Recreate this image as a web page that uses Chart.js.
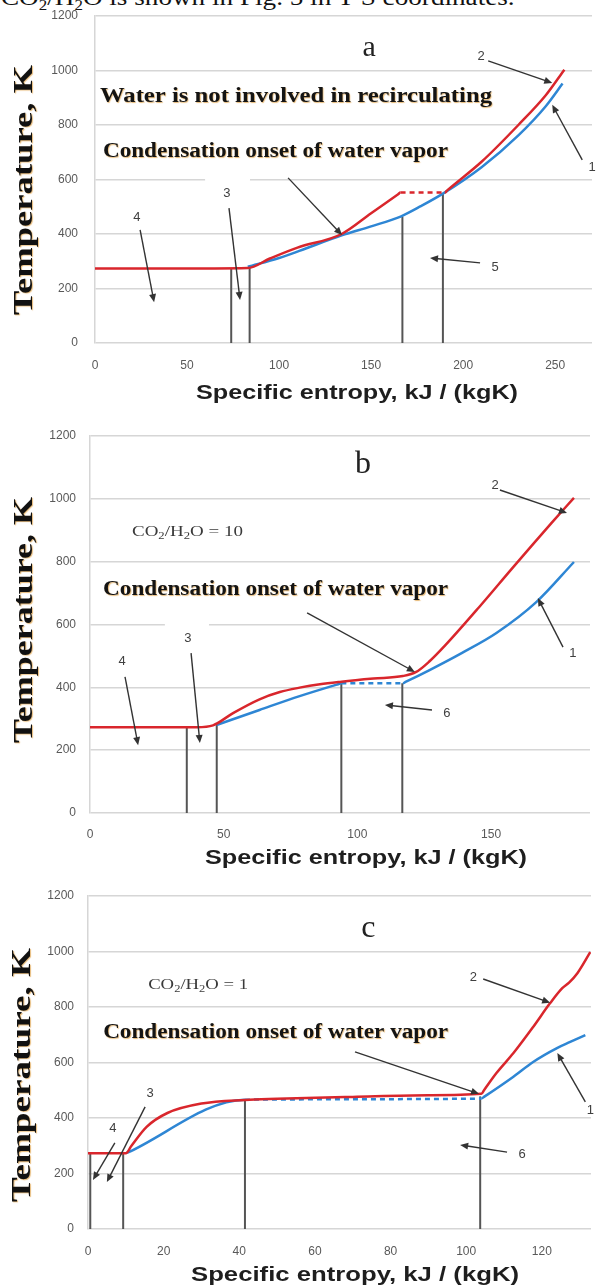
<!DOCTYPE html>
<html><head><meta charset="utf-8">
<script src="https://cdn.jsdelivr.net/npm/chart.js@4.4.1/dist/chart.umd.min.js"></script>
<style>
html,body{margin:0;padding:0;background:#fff}
body{width:597px;height:1288px;position:relative;overflow:hidden}
.panel{position:absolute;left:0;width:597px}
.panel canvas{display:block}
#cap{position:absolute;left:1px;top:-15px;font:24px "Liberation Serif",serif;color:#111;white-space:nowrap;line-height:24px;transform-origin:0 0}
#cap sub{font-size:15px;vertical-align:-5px;line-height:0}
</style></head><body>
<div id="cap">CO<sub>2</sub>/H<sub>2</sub>O is shown in Fig. 5 in T-S coordinates.</div>
<div class="panel" style="top:0;height:410px"><canvas id="cA"></canvas></div>
<div class="panel" style="top:415px;height:460px"><canvas id="cB"></canvas></div>
<div class="panel" style="top:880px;height:408px"><canvas id="cC"></canvas></div>
<script>
// ---------- data ----------
const Y_TICKS = [0, 200, 400, 600, 800, 1000, 1200];
const X_TICKS_A = [0, 50, 100, 150, 200, 250];
const X_TICKS_B = [0, 50, 100, 150];
const X_TICKS_C = [0, 20, 40, 60, 80, 100, 120];

// panel a
const S_RED_A  = [0, 40, 83, 95, 110, 134, 150, 164.5, 166, 190, 191.5, 210, 230, 245, 255];
const T_RED_A  = [273, 273, 275, 310, 350, 400, 476, 545, 552, 552, 561, 665, 800, 910, 1003];
const S_BLUE_A = [83, 100, 111, 134, 150, 166, 177, 189, 210, 230, 245, 254];
const T_BLUE_A = [280, 312, 338, 395, 428, 464, 502, 548, 645, 762, 870, 952];
const RED_DASH_A = [166, 190];
const DROP_S_A = [74, 84, 167, 189];
const DROP_T_A = [273, 278, 464, 548];

// panel b
const S_RED_B  = [0, 40, 46, 53.5, 63.4, 71, 78.4, 86, 94, 106, 117, 122, 127, 133, 145.5, 157.8, 165.3, 172.8, 181];
const T_RED_B  = [273, 273, 279, 318, 362, 385, 399, 410, 418, 428, 436, 449, 483, 535, 655, 778, 852, 925, 1003];
const S_BLUE_B = [47.3, 63.4, 78.4, 92.8, 94, 117, 118, 127, 139, 152, 167, 181];
const T_BLUE_B = [280, 328, 372, 410, 413, 413, 417, 455, 509, 573, 672, 799];
const BLUE_DASH_B = [94, 117];
const DROP_S_B = [36.2, 47.4, 94, 116.8];
const DROP_T_B = [273, 280, 413, 413];

// panel c
const S_RED_C  = [0, 10, 11.5, 15.5, 21, 30, 41.5, 50, 70, 90, 104, 104.8, 108, 112.5, 117.7, 122.2, 125.4, 127.2, 129.4, 132.8];
const T_RED_C  = [273, 273, 300, 368, 418, 452, 465, 469, 476, 482, 487, 502, 562, 634, 728, 814, 868, 888, 922, 998];
const S_BLUE_C = [10.3, 41.5, 104, 104.8, 112.4, 117.7, 124, 127.5, 131.5];
const T_BLUE_C = [274, 466, 470, 477, 548, 602, 652, 674, 699];
const BLUE_DASH_C = [41.5, 104];
const DROP_S_C = [0.6, 9.3, 41.5, 103.7];
const DROP_T_C = [273, 273, 466, 478];

// ---------- styles ----------
const RED = '#d9262c', BLUE = '#2e86d4', DROP = '#555555', GRID = '#d6d6d6', TICK = '#595959';
const SERIF = '"Liberation Serif", serif', SANS = '"Liberation Sans", Arial, sans-serif';
const Y_TITLE = 'Temperature, K', X_TITLE = 'Specific entropy, kJ / (kgK)';
const COND = 'Condensation onset of water vapor';

(function () {
  const cap = document.getElementById('cap');
  cap.style.transform = 'scaleX(' + (514 / cap.offsetWidth) + ')';
})();

function curve(S, T, color, dash, order) {
  return {
    data: S.map((s, i) => ({x: s, y: T[i]})),
    borderColor: color, borderWidth: 2.5, pointRadius: 0, fill: false,
    cubicInterpolationMode: 'monotone', order: order,
    segment: dash ? {borderDash: c => (c.p0.parsed.x >= dash[0] - 1e-6 && c.p1.parsed.x <= dash[1] + 1e-6) ? [5, 4] : undefined} : undefined
  };
}

function fitText(ctx, txt, x, y, font, color, w, align, glow, rot) {
  ctx.save();
  ctx.font = font; ctx.fillStyle = color; ctx.textBaseline = 'middle';
  const nat = ctx.measureText(txt).width;
  const k = w ? w / nat : 1;
  ctx.translate(x, y);
  if (rot) ctx.rotate(rot);
  ctx.scale(k, 1);
  ctx.textAlign = align || 'left';
  if (glow) { ctx.shadowColor = 'rgba(215,140,30,0.6)'; ctx.shadowOffsetX = 0.8; ctx.shadowOffsetY = 0.8; ctx.shadowBlur = 1; }
  ctx.fillText(txt, 0, 0);
  ctx.restore();
}

function richRatio(ctx, x, y, tail, w) {
  const parts = [['CO', 0], ['2', 1], ['/H', 0], ['2', 1], ['O = ' + tail, 0]];
  const big = '15px ' + SERIF, small = '10px ' + SERIF;
  ctx.save();
  ctx.textBaseline = 'middle'; ctx.fillStyle = '#3a3a3a';
  let nat = 0;
  parts.forEach(p => { ctx.font = p[1] ? small : big; nat += ctx.measureText(p[0]).width; });
  const k = w / nat;
  ctx.translate(x, y); ctx.scale(k, 1);
  let cx = 0;
  parts.forEach(p => { ctx.font = p[1] ? small : big; ctx.fillText(p[0], cx, p[1] ? 4 : 0); cx += ctx.measureText(p[0]).width; });
  ctx.restore();
}

function arrow(ctx, x1, y1, x2, y2) {
  const a = Math.atan2(y2 - y1, x2 - x1), L = 8, W = 3.5;
  ctx.beginPath(); ctx.moveTo(x1, y1); ctx.lineTo(x2 - L * 0.7 * Math.cos(a), y2 - L * 0.7 * Math.sin(a)); ctx.stroke();
  ctx.beginPath(); ctx.moveTo(x2, y2);
  ctx.lineTo(x2 - L * Math.cos(a) + W * Math.sin(a), y2 - L * Math.sin(a) - W * Math.cos(a));
  ctx.lineTo(x2 - L * Math.cos(a) - W * Math.sin(a), y2 - L * Math.sin(a) + W * Math.cos(a));
  ctx.closePath(); ctx.fill();
}

function annPlugin(P) {
  return {
    id: 'ann' + P.id,
    beforeDatasetsDraw(chart) {
      const {ctx, scales: {x, y}} = chart;
      ctx.save(); ctx.fillStyle = '#fff';
      (P.gaps || []).forEach(g => {
        const x0 = x.getPixelForValue(g[0]), x1 = x.getPixelForValue(g[1]), py = y.getPixelForValue(g[2]);
        ctx.fillRect(x0, py - 2, x1 - x0, 4);
      });
      ctx.restore();
    },
    afterDraw(chart) {
      const {ctx, scales: {x, y}} = chart;
      fitText(ctx, Y_TITLE, P.yt[0], P.yt[1], 'bold 27px ' + SERIF, '#111', P.yt[2], 'center', true, -Math.PI / 2);
      fitText(ctx, X_TITLE, P.xt[0], P.xt[1], 'bold 21px ' + SANS, '#1e1e1e', P.xt[2], 'center', false);
      P.notes.forEach(n => {
        const px = x.getPixelForValue(n.x), py = y.getPixelForValue(n.y);
        if (n.rich) { richRatio(ctx, px, py, n.rich, n.w); return; }
        fitText(ctx, n.t, px, py, n.f || ('13px ' + SANS), n.c || '#404040', n.w || 0, n.a || 'center', n.g);
      });
      ctx.save(); ctx.strokeStyle = '#333'; ctx.fillStyle = '#333'; ctx.lineWidth = 1.4;
      P.arrows.forEach(a => arrow(ctx, x.getPixelForValue(a[0]), y.getPixelForValue(a[1]), x.getPixelForValue(a[2]), y.getPixelForValue(a[3])));
      ctx.restore();
    }
  };
}

function build(id, P) {
  const ds = [curve(P.sRed, P.tRed, RED, P.redDash, 0), curve(P.sBlue, P.tBlue, BLUE, P.blueDash, 1)];
  P.dropS.forEach((s, i) => ds.push({data: [{x: s, y: 0}, {x: s, y: P.dropT[i]}], borderColor: DROP, borderWidth: 2, pointRadius: 0, order: 2}));
  return new Chart(document.getElementById(id), {
    type: 'line',
    data: {datasets: ds},
    options: {
      responsive: true, maintainAspectRatio: false, animation: false, events: [],
      layout: {padding: {top: P.top, right: P.padR, left: 0, bottom: 0}},
      plugins: {legend: {display: false}, tooltip: {enabled: false}},
      scales: {
        x: {type: 'linear', min: 0, max: P.xmax,
            afterFit: s => { s.height = P.xh; s.paddingLeft = 0; s.paddingRight = 0; },
            afterBuildTicks: s => { s.ticks = P.xticks.map(v => ({value: v})); },
            grid: {display: false, drawTicks: false}, border: {display: false},
            ticks: {padding: P.xpad, font: {family: SANS, size: 12}, color: TICK, maxRotation: 0, autoSkip: false, callback: v => String(v)}},
        y: {type: 'linear', min: 0, max: 1200,
            afterFit: s => { s.width = P.yw; s.paddingTop = 0; s.paddingBottom = 0; },
            afterBuildTicks: s => { s.ticks = Y_TICKS.map(v => ({value: v})); },
            grid: {color: GRID, lineWidth: 1.5, drawTicks: false},
            border: {display: true, color: GRID, width: 1.5},
            ticks: {padding: P.ypad, font: {family: SANS, size: 12}, color: TICK, callback: v => String(v)}}
      }
    },
    plugins: [annPlugin(P)]
  });
}

build('cA', {
  id: 'A', sRed: S_RED_A, tRed: T_RED_A, sBlue: S_BLUE_A, tBlue: T_BLUE_A, redDash: RED_DASH_A, blueDash: null,
  dropS: DROP_S_A, dropT: DROP_T_A, xticks: X_TICKS_A, xmax: 270,
  top: 16, padR: 5, yw: 95, xh: 67, xpad: 15, ypad: 17,
  yt: [25, 190, 250], xt: [357, 393, 322],
  gaps: [[59.8, 84.2, 600]],
  notes: [
    {t: 'a', x: 148.9, y: 1083, f: '30px ' + SERIF, c: '#222'},
    {t: 'Water is not involved in recirculating', x: 2.7, y: 903, f: 'bold 21px ' + SERIF, c: '#141414', w: 392, a: 'left', g: true},
    {t: COND, x: 4.3, y: 701, f: 'bold 20px ' + SERIF, c: '#141414', w: 345, a: 'left', g: true},
    {t: '2', x: 209.8, y: 1050}, {t: '1', x: 270, y: 646}, {t: '3', x: 71.7, y: 550}, {t: '4', x: 22.8, y: 462}, {t: '5', x: 217.4, y: 279}
  ],
  arrows: [[104.9, 606, 134.2, 396], [213.6, 1035, 248.4, 954], [264.7, 672, 248.4, 874], [72.8, 495, 78.8, 158], [24.5, 415, 32.1, 150], [209.2, 294, 182, 312]]
});

build('cB', {
  id: 'B', sRed: S_RED_B, tRed: T_RED_B, sBlue: S_BLUE_B, tBlue: T_BLUE_B, redDash: null, blueDash: BLUE_DASH_B,
  dropS: DROP_S_B, dropT: DROP_T_B, xticks: X_TICKS_B, xmax: 187,
  top: 21, padR: 7, yw: 90, xh: 62, xpad: 14, ypad: 14,
  yt: [25, 205, 246], xt: [366, 443, 322],
  gaps: [[28, 44.5, 600]],
  notes: [
    {t: 'b', x: 102.1, y: 1108, f: '32px ' + SERIF, c: '#222'},
    {rich: '10', x: 15.7, y: 894, w: 111},
    {t: COND, x: 4.9, y: 710, f: 'bold 20px ' + SERIF, c: '#141414', w: 345, a: 'left', g: true},
    {t: '2', x: 151.5, y: 1044}, {t: '1', x: 180.6, y: 509}, {t: '6', x: 133.5, y: 318}, {t: '3', x: 36.6, y: 557}, {t: '4', x: 12, y: 481}
  ],
  arrows: [[81.2, 637, 121.5, 449], [153.3, 1028, 178.4, 955], [176.9, 528, 167.5, 684], [127.9, 328, 110.3, 344], [37.8, 509, 41.1, 223], [13.1, 433, 18, 216]]
});

build('cC', {
  id: 'C', sRed: S_RED_C, tRed: T_RED_C, sBlue: S_BLUE_C, tBlue: T_BLUE_C, redDash: null, blueDash: BLUE_DASH_C,
  dropS: DROP_S_C, dropT: DROP_T_C, xticks: X_TICKS_C, xmax: 133,
  top: 16, padR: 6, yw: 88, xh: 59, xpad: 15, ypad: 14,
  yt: [23.5, 195, 254], xt: [355, 395, 328],
  gaps: [],
  notes: [
    {t: 'c', x: 74.1, y: 1081, f: '32px ' + SERIF, c: '#222'},
    {rich: '1', x: 15.9, y: 879, w: 100},
    {t: COND, x: 4, y: 706, f: 'bold 20px ' + SERIF, c: '#141414', w: 345, a: 'left', g: true},
    {t: '2', x: 101.9, y: 908}, {t: '1', x: 132.8, y: 429}, {t: '6', x: 114.8, y: 267}, {t: '3', x: 16.4, y: 490}, {t: '4', x: 6.6, y: 364}
  ],
  arrows: [[70.6, 638, 103.4, 487], [104.5, 901, 122.2, 815], [131.5, 458, 124.1, 634], [110.8, 277, 98.4, 303], [15.1, 440, 5, 169], [7.1, 310, 1.3, 177]]
});
</script>
</body></html>
